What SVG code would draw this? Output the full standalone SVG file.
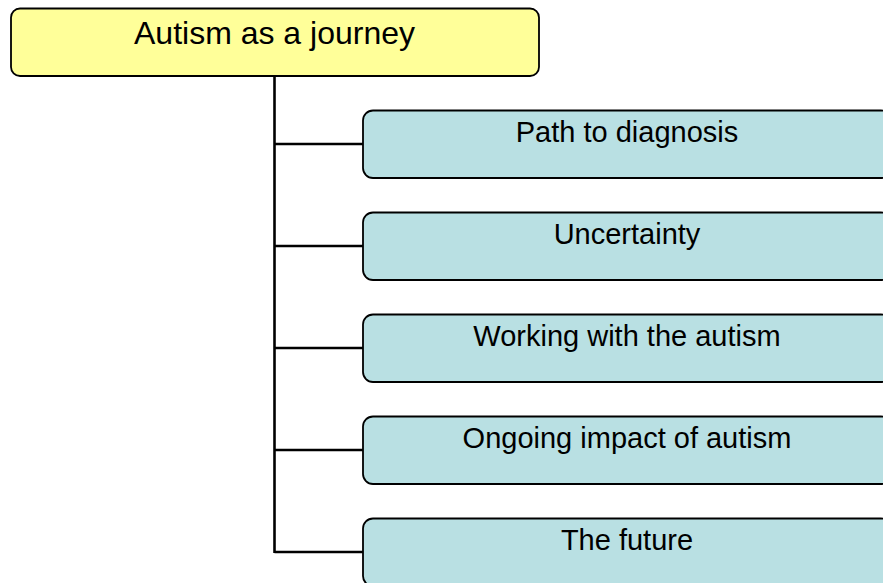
<svg xmlns="http://www.w3.org/2000/svg" width="883" height="583" viewBox="0 0 883 583">
<style>
.root{fill:#FFFF99;stroke:#000;stroke-width:1.8}
.child{fill:#B9E0E3;stroke:#000;stroke-width:1.8}
.t{font-family:"Liberation Sans",Arial,sans-serif;fill:#000;text-anchor:middle}
.rt{font-size:32px}
.ct{font-size:29px}
.conn{stroke:#000;stroke-width:2.6;fill:none}
</style>
<rect width="883" height="583" fill="#fff"/>
<g id="connectors">
<path class="conn" d="M274.5 76V553"/>
<path class="conn" d="M274.5 144H363"/>
<path class="conn" d="M274.5 246H363"/>
<path class="conn" d="M274.5 348H363"/>
<path class="conn" d="M274.5 450H363"/>
<path class="conn" d="M274.5 552H363"/>
</g>
<g id="root">
<rect class="root" x="11" y="8.5" width="528" height="67.5" rx="9"/>
<text class="t rt" x="274.5" y="44">Autism as a journey</text>
</g>
<g id="n1">
<rect class="child" x="363" y="110.5" width="528" height="67.5" rx="10"/>
<text class="t ct" x="627" y="141.5">Path to diagnosis</text>
</g>
<g id="n2">
<rect class="child" x="363" y="212.5" width="528" height="67.5" rx="10"/>
<text class="t ct" x="627" y="243.5">Uncertainty</text>
</g>
<g id="n3">
<rect class="child" x="363" y="314.5" width="528" height="67.5" rx="10"/>
<text class="t ct" x="627" y="345.5">Working with the autism</text>
</g>
<g id="n4">
<rect class="child" x="363" y="416.5" width="528" height="67.5" rx="10"/>
<text class="t ct" x="627" y="447.5">Ongoing impact of autism</text>
</g>
<g id="n5">
<rect class="child" x="363" y="518.5" width="528" height="67.5" rx="10"/>
<text class="t ct" x="627" y="549.5">The future</text>
</g>
</svg>
